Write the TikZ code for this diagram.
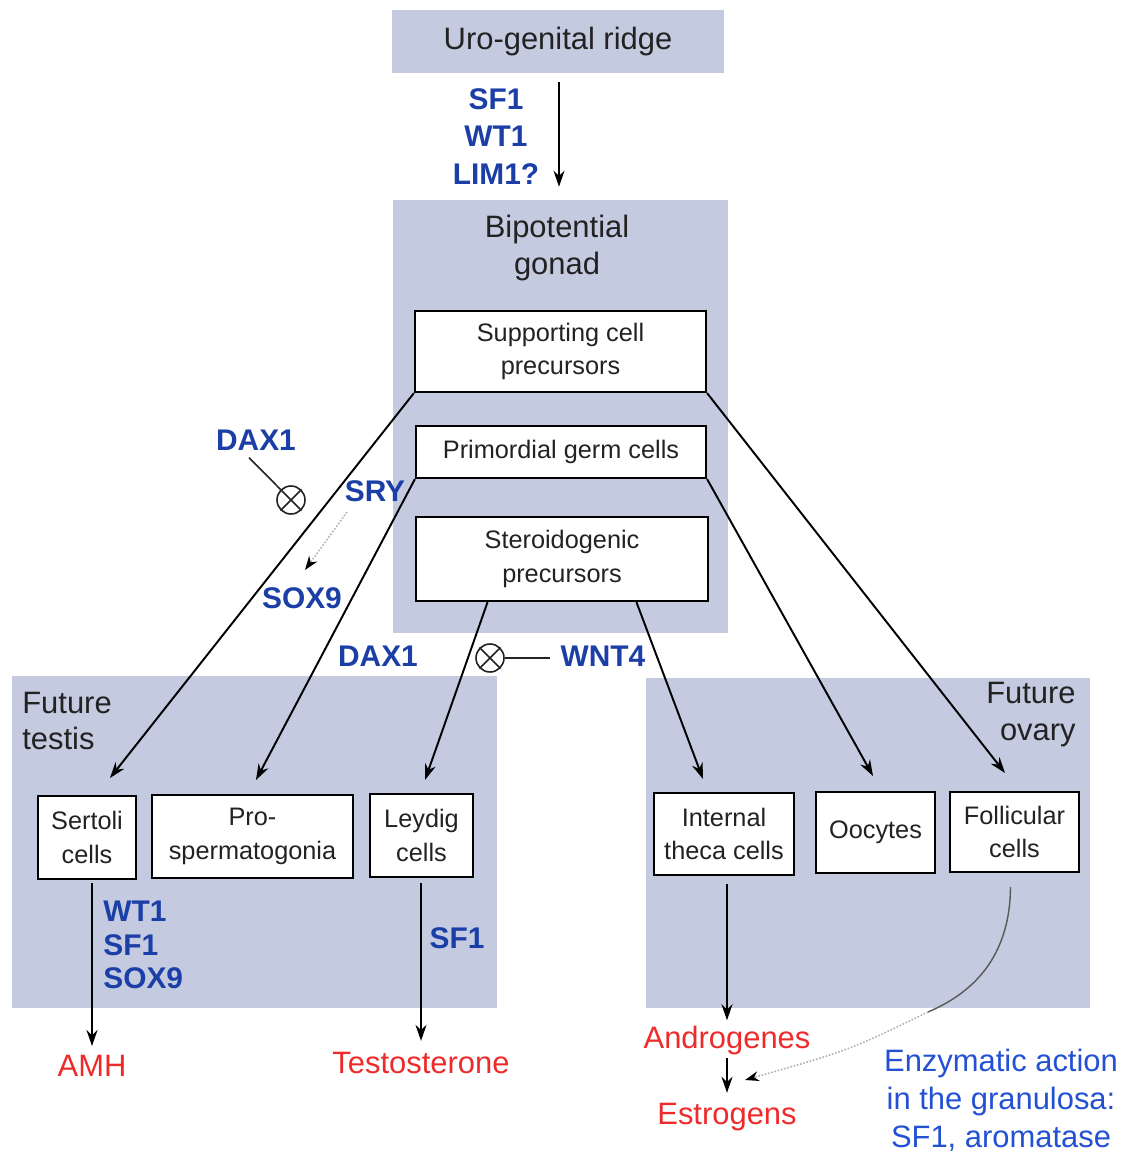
\documentclass[tikz,border=0pt]{standalone}
\usepackage{fontspec}
\setmainfont{Liberation Sans}
\usetikzlibrary{arrows.meta,calc}
\definecolor{regfill}{HTML}{C4CADF}
\definecolor{gblue}{HTML}{1B3FA6}
\definecolor{eblue}{HTML}{2451D4}
\definecolor{tred}{HTML}{EE2B2B}
\definecolor{tgray}{HTML}{222222}
\begin{document}
\begin{tikzpicture}[x=0.02cm,y=-0.02cm,
 region/.style={fill=regfill,draw=none,inner sep=0},
 cellbox/.style={draw=black,fill=white,line width=1.3pt,inner sep=0,align=center,text=tgray,font=\fontsize{14.4}{19}\selectfont},
 big/.style={text=tgray,font=\fontsize{17.6}{21}\selectfont,align=center,inner sep=0},
 gene/.style={text=gblue,font=\bfseries\fontsize{17}{21.3}\selectfont,align=center,inner sep=0},
 product/.style={text=tred,font=\fontsize{17.6}{21}\selectfont,inner sep=0},
 arr/.style={line width=1.1pt,draw=black,-{Stealth[length=0.32cm,width=0.22cm]}},
 inhib/.style={circle,draw=tgray,line width=0.9pt,minimum size=0.56cm,inner sep=0},
 inhline/.style={draw=tgray,line width=0.9pt},
]
\useasboundingbox (0,0) rectangle (1134,1156);
\fill[white] (0,0) rectangle (1134,1156);

% regions
\node[region,big,minimum width=6.64cm,minimum height=1.26cm] (uro) at (558,41.5) {Uro-genital ridge};
\node[region,minimum width=6.70cm,minimum height=8.66cm] (gonad) at (560.5,416.5) {};
\node[big] (bip) at (557,248) {Bipotential\\gonad};
\node[region,minimum width=9.70cm,minimum height=6.64cm] (testis) at (254.5,842) {};
\node[region,minimum width=8.88cm,minimum height=6.60cm] (ovary) at (868,843) {};
\node[big,align=left,anchor=west] (ftxt) at (22,721) {Future\\testis};
\node[big,align=right,anchor=east] (fotxt) at (1076,715) {Future\\ovary};

% boxes in gonad
\node[cellbox,minimum width=5.82cm,minimum height=1.62cm] (sup) at (560.5,351.5) {Supporting cell\\precursors};
\node[cellbox,minimum width=5.80cm,minimum height=1.04cm] (pgc) at (561,452) {Primordial germ cells};
\node[cellbox,minimum width=5.84cm,minimum height=1.68cm] (ster) at (562,559) {Steroidogenic\\precursors};

% cell boxes
\node[cellbox,minimum width=1.96cm,minimum height=1.66cm] (sert) at (87,837.5) {Sertoli\\cells};
\node[cellbox,minimum width=4.02cm,minimum height=1.66cm] (pros) at (252.5,836.5) {Pro-\\spermatogonia};
\node[cellbox,minimum width=2.06cm,minimum height=1.66cm] (leyd) at (421.5,835.5) {Leydig\\cells};
\node[cellbox,minimum width=2.80cm,minimum height=1.64cm] (theca) at (724,834) {Internal\\theca cells};
\node[cellbox,minimum width=2.38cm,minimum height=1.62cm] (ooc) at (875.5,832.5) {Oocytes};
\node[cellbox,minimum width=2.58cm,minimum height=1.60cm] (foll) at (1014.5,832) {Follicular\\cells};

% top arrow
\coordinate (ua) at (559,0);
\node[gene] (g1) at (496,136.5) {SF1\\WT1\\LIM1?};
\draw[arr,shorten <=0.18cm,shorten >=0.26cm] (uro.south -| ua) -- (gonad.north -| ua);

% arrows from gonad to future cells
\coordinate (sertin) at (110,778);
\coordinate (follin) at (1005,773);
\coordinate (prosin) at (256,780);
\coordinate (oocin) at (873,776);
\coordinate (leydin) at (425,780);
\coordinate (thecain) at (703,779);
\draw[arr] (sup.south west) -- (sertin);
\draw[arr] (sup.south east) -- (follin);
\draw[arr] (pgc.south west) -- (prosin);
\draw[arr] (pgc.south east) -- (oocin);
\draw[arr] ($(ster.south west)!0.247!(ster.south east)$) -- (leydin);
\draw[arr] ($(ster.south west)!0.753!(ster.south east)$) -- (thecain);

% DAX1 / SRY / SOX9
\node[gene] (dax1) at (256,440) {DAX1};
\node[inhib] (ot1) at (291,500) {};
\draw[inhline] (ot1.north west) -- (ot1.south east) (ot1.north east) -- (ot1.south west);
\draw[inhline] (dax1.south) ++(-7,7) -- (ot1);
\node[gene] (sry) at (375,491) {SRY};
\node[gene] (sox9) at (302,598) {SOX9};
\coordinate (sryf) at (347,512);
\coordinate (sryt) at (305,570);
\draw[densely dotted,draw=gray!60,line width=0.9pt,-{Stealth[length=0.28cm,width=0.2cm,color=black]}] (sryf) -- (sryt);

% DAX1 / WNT4
\node[gene] (dax2) at (378,656) {DAX1};
\node[inhib] (ot2) at (490,658) {};
\draw[inhline] (ot2.north west) -- (ot2.south east) (ot2.north east) -- (ot2.south west);
\node[gene] (wnt4) at (603,656) {WNT4};
\draw[inhline,shorten >=0.2cm] (ot2) -- (wnt4.west |- ot2);

% testis outputs
\node[product] (amh) at (92,1066) {AMH};
\draw[arr,shorten >=0.18cm] (sert.south -| amh.north) ++(0,3) -- (amh.north);
\node[gene,align=left,anchor=west,font=\bfseries\fontsize{17}{19}\selectfont] (sgenes) at (103,945) {WT1\\SF1\\SOX9};
\node[product] (testo) at (421,1063) {Testosterone};
\draw[arr,shorten <=0.1cm,shorten >=0.22cm] (leyd.south -| testo.north) -- (testo.north);
\node[gene] (lsf1) at (457,938) {SF1};

% ovary outputs
\node[product] (andro) at (727,1040) {Androgenes};
\node[product] (estro) at (727,1117) {Estrogens};
\draw[arr,shorten <=0.16cm,shorten >=0.1cm] (theca.south -| andro.north) -- (andro.north);
\draw[arr,shorten <=0.07cm,shorten >=0.2cm] (andro.south) -- (estro.north);
\node[text=eblue,font=\fontsize{17.6}{21.5}\selectfont,align=center,inner sep=0] (enz) at (1001,1100) {Enzymatic action\\in the granulosa:\\SF1, aromatase};
\coordinate (cs) at (928,1012);
\coordinate (ein) at (745,1080);
\draw[draw=gray!70!black,line width=0.8pt] (foll.south) ++(-4,14) .. controls (1010,950) and (980,990) .. (cs);
\draw[densely dotted,draw=gray!60,line width=0.9pt,-{Stealth[length=0.28cm,width=0.2cm,color=black]}] (cs) .. controls (850,1050) .. (ein);
\end{tikzpicture}
\end{document}
